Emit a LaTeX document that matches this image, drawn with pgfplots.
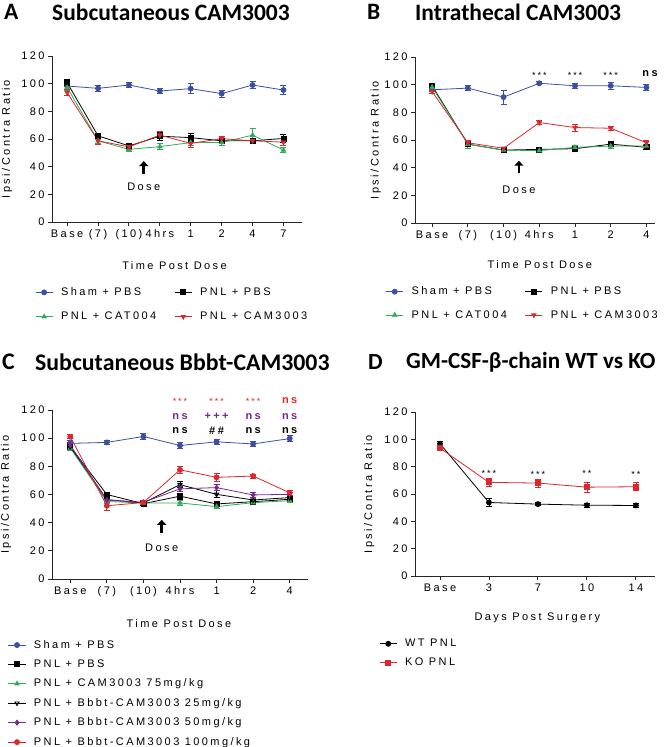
\documentclass[border=0pt]{standalone}
\usepackage{fontspec}
\setmainfont{Liberation Sans}[LetterSpace=22]
\newfontfamily\titlefont{Carlito}
\usepackage{pgfplots}
\pgfplotsset{compat=1.18}
\usepackage{pgfplotstable}
\usetikzlibrary{arrows.meta}
\definecolor{cblue}{RGB}{59,79,163}
\definecolor{cgreen}{RGB}{50,170,90}
\definecolor{cred}{RGB}{220,40,45}
\definecolor{cpurple}{RGB}{120,40,140}

\pgfplotstableread{
x sham se pbs pe cat ce cam me
0 98.3 2.5 100.7 2.5 97.3 2 93.5 2
1 96.6 2 62.3 2 58.7 2 58.7 2.5
2 99 2 55 2 52.5 1.5 54.3 2
3 94.7 2 62 3 54.5 2 62.8 2.5
4 96.4 3.5 61 3 57.4 2 56.8 3
5 92.8 2.5 58.7 2 57.4 2 60.2 2
6 99 2.5 58.7 2 62.8 5 58.7 2
7 95.4 3 60.4 3 52 2 57.7 2.5
}\dataA
\pgfplotstableread{
x sham se pbs pe cat ce cam me
0 96.3 1.5 99.2 2 98.2 2 95 1.5
1 97.5 2 57 3 57 3 58 2
2 91 5 52.7 1 52.7 1 54 1
3 101 1 53.2 1.5 52.3 1 72.6 1.5
4 99.2 2 53.7 1 54.7 1.5 69 2.5
5 99.2 2.5 57 1.5 55.6 1.5 68.5 1.5
6 98 2 54.7 1.5 55.6 1.5 58 1.5
}\dataB
\pgfplotstableread{
x sham se pbs pe cat ce l25 e25 l50 e50 l100 e100
0 96.3 2 94 2 93 2 94 2 95 2 101 1.5
1 97 1.5 60 1.5 55 1.5 56.4 1.5 56 1.5 52 3
2 101.2 2 53.5 1.5 54 1.5 54 1.5 54.5 1.5 54.3 1.5
3 94.8 2 58.8 2 54 1.5 67 2 64 2 77.5 2.5
4 97.4 1.5 53.3 1.5 51.4 1.5 60.1 2.5 64.9 2 72.2 3
5 95.9 1.5 54.9 1.5 54.2 1.5 56.1 1.5 59.7 1.5 73.1 1.5
6 99.7 2 56.6 1.5 55.6 1.5 57.8 1.5 60.1 1.5 61.2 2
}\dataC
\pgfplotstableread{
x wt we ko ke
0 96.8 1.5 93.6 2
1 53.8 3 68.5 3
2 52.6 1 68 3
3 51.8 1.5 65 3.5
4 51.6 1.5 65.3 3
}\dataD

\pgfplotsset{
  panel/.style={
    scale only axis, anchor=south west,
    axis x line*=bottom, axis y line*=left,
    ymin=0, ymax=120, ytick={0,20,...,120},
    tick align=outside, major tick length=4pt,
    axis line style={line width=0.9pt, black!85, -},
    every tick/.style={line width=0.9pt, black!85},
    tick label style={font=\fontsize{11}{13}\selectfont},
    /pgf/number format/assume math mode=true,
    label style={font=\fontsize{11}{13}\selectfont},
    ylabel={Ipsi/Contra Ratio},
    legend style={draw=none, fill=none, font=\fontsize{11}{13}\selectfont, anchor=north west, row sep=5pt,
      /tikz/every odd column/.append style={column sep=6pt}},
    legend cell align=left,
    every axis plot/.append style={line width=0.8pt, mark size=2.5pt},
    clip=false,
  },
  ebar/.style={error bars/.cd, y dir=both, y explicit,
    error mark options={rotate=90, mark size=3pt, line width=0.8pt},
    error bar style={line width=0.8pt}},
}
\newcommand{\ann}{\fontsize{9}{10}\selectfont}
\newcommand{\annb}{\fontsize{11}{12}\selectfont\bfseries}
\newcommand{\ttl}{\titlefont\bfseries\fontsize{23.5}{26}\selectfont}
\newcommand{\ttlc}{\titlefont\bfseries\fontsize{23.8}{26}\selectfont}
\newcommand{\ttld}{\titlefont\bfseries\fontsize{23.1}{26}\selectfont}

\begin{document}
\begin{tikzpicture}
\useasboundingbox (0,0) rectangle (666pt,747pt);
% titles
\node[anchor=west, inner sep=0] at (4pt,735pt) {\ttl A};
\node[anchor=west, inner sep=0] at (52pt,735pt) {\ttl Subcutaneous CAM3003};
\node[anchor=west, inner sep=0] at (367pt,735pt) {\ttl B};
\node[anchor=west, inner sep=0] at (415pt,735pt) {\ttl Intrathecal CAM3003};
\node[anchor=west, inner sep=0] at (2pt,385pt) {\ttlc C};
\node[anchor=west, inner sep=0] at (35pt,385pt) {\ttlc Subcutaneous Bbbt-CAM3003};
\node[anchor=west, inner sep=0] at (368pt,385pt) {\ttld D};
\node[anchor=west, inner sep=0] at (406pt,385pt) {\ttld GM-CSF-β-chain WT vs KO};

% Panel A
\begin{axis}[panel, at={(52pt,525pt)}, width=250pt, height=166pt,
  xmin=-0.49, xmax=7.6, xtick={0,...,7},
  xticklabels={Base,(7),(10),4hrs,1,2,4,7},
  xlabel={Time Post Dose},
  xlabel style={at={(axis description cs:0.49,-0.26)}, anchor=center},
  ylabel style={at={(axis description cs:-0.18,0.5)}, anchor=center},
  legend columns=2,
  legend style={at={(axis description cs:-0.08,-0.37)}, row sep=11pt, /tikz/every even column/.append style={column sep=16pt}},
]
\addplot[cblue, mark=*, ebar] table[x=x,y=sham,y error=se]{\dataA};
\addlegendentry{Sham + PBS}
\addplot[black, mark=square*, ebar] table[x=x,y=pbs,y error=pe]{\dataA};
\addlegendentry{PNL + PBS}
\addplot[cgreen, mark=triangle*, ebar] table[x=x,y=cat,y error=ce]{\dataA};
\addlegendentry{PNL + CAT004}
\addplot[cred, mark=triangle*, mark options={rotate=180}, ebar] table[x=x,y=cam,y error=me]{\dataA};
\addlegendentry{PNL + CAM3003}
\draw[-{Triangle[width=9pt,length=5pt]}, line width=2.8pt] (axis cs:2.48,35) -- (axis cs:2.48,44);
\node[font=\fontsize{11}{13}\selectfont] at (axis cs:2.48,25.5) {Dose};
\end{axis}

% Panel B
\begin{axis}[panel, at={(415pt,524pt)}, width=240pt, height=166pt,
  xmin=-0.48, xmax=6.24, xtick={0,...,6},
  xticklabels={Base,(7),(10),4hrs,1,2,4},
  xlabel={Time Post Dose},
  xlabel style={at={(axis description cs:0.52,-0.253)}, anchor=center},
  ylabel style={at={(axis description cs:-0.163,0.5)}, anchor=center},
  legend columns=2,
  legend style={at={(axis description cs:-0.135,-0.36)}, row sep=10pt, /tikz/every even column/.append style={column sep=16pt}},
]
\addplot[cblue, mark=*, ebar] table[x=x,y=sham,y error=se]{\dataB};
\addlegendentry{Sham + PBS}
\addplot[black, mark=square*, ebar] table[x=x,y=pbs,y error=pe]{\dataB};
\addlegendentry{PNL + PBS}
\addplot[cgreen, mark=triangle*, ebar] table[x=x,y=cat,y error=ce]{\dataB};
\addlegendentry{PNL + CAT004}
\addplot[cred, mark=triangle*, mark options={rotate=180}, ebar] table[x=x,y=cam,y error=me]{\dataB};
\addlegendentry{PNL + CAM3003}
\draw[-{Triangle[width=9pt,length=5pt]}, line width=2.8pt] (axis cs:2.43,36) -- (axis cs:2.43,45);
\node[font=\fontsize{11}{13}\selectfont] at (axis cs:2.43,24) {Dose};
\node[font=\ann] at (axis cs:3,106.5) {***};
\node[font=\ann] at (axis cs:4,106.5) {***};
\node[font=\ann] at (axis cs:5,106.5) {***};
\node[font=\annb] at (axis cs:6.1,108) {ns};
\end{axis}

% Panel C
\begin{axis}[panel, at={(52pt,168pt)}, width=256pt, height=169pt,
  xmin=-0.5, xmax=6.5, xtick={0,...,6},
  xticklabels={Base,(7),(10),4hrs,1,2,4},
  xlabel={Time Post Dose},
  xlabel style={at={(axis description cs:0.496,-0.266)}, anchor=center},
  ylabel style={at={(axis description cs:-0.18,0.5)}, anchor=center},
  legend style={at={(axis description cs:-0.184,-0.338)}, row sep=6pt},
]
\addplot[cblue, mark=*, ebar] table[x=x,y=sham,y error=se]{\dataC};
\addlegendentry{Sham + PBS}
\addplot[black, mark=square*, ebar] table[x=x,y=pbs,y error=pe]{\dataC};
\addlegendentry{PNL + PBS}
\addplot[cgreen, mark=triangle*, ebar] table[x=x,y=cat,y error=ce]{\dataC};
\addlegendentry{PNL + CAM3003 75mg/kg}
\addplot[black, mark=triangle, mark options={rotate=180, fill=white}, ebar] table[x=x,y=l25,y error=e25]{\dataC};
\addlegendentry{PNL + Bbbt-CAM3003 25mg/kg}
\addplot[cpurple, mark=diamond*, ebar] table[x=x,y=l50,y error=e50]{\dataC};
\addlegendentry{PNL + Bbbt-CAM3003 50mg/kg}
\addplot[cred, mark=*, ebar] table[x=x,y=l100,y error=e100]{\dataC};
\addlegendentry{PNL + Bbbt-CAM3003 100mg/kg}
\draw[-{Triangle[width=9pt,length=5pt]}, line width=2.8pt] (axis cs:2.5,33) -- (axis cs:2.5,42);
\node[font=\fontsize{11}{13}\selectfont] at (axis cs:2.5,22.5) {Dose};
\node[font=\ann, text=cred] at (axis cs:3,126) {***};
\node[font=\ann, text=cred] at (axis cs:4,126) {***};
\node[font=\ann, text=cred] at (axis cs:5,126) {***};
\node[font=\annb, text=cred] at (axis cs:6,126.5) {ns};
\node[font=\annb, text=cpurple] at (axis cs:3,115.5) {ns};
\node[font=\annb, text=cpurple] at (axis cs:4,115.5) {+++};
\node[font=\annb, text=cpurple] at (axis cs:5,115.5) {ns};
\node[font=\annb, text=cpurple] at (axis cs:6,115.5) {ns};
\node[font=\annb] at (axis cs:3,105.5) {ns};
\node[font=\annb] at (axis cs:4,105.5) {\#\#};
\node[font=\annb] at (axis cs:5,105.5) {ns};
\node[font=\annb] at (axis cs:6,105.5) {ns};
\end{axis}

% Panel D
\begin{axis}[panel, at={(415pt,171pt)}, width=240pt, height=164pt,
  xmin=-0.51, xmax=4.39, xtick={0,...,4},
  xticklabels={Base,3,7,10,14},
  xlabel={Days Post Surgery},
  xlabel style={at={(axis description cs:0.51,-0.256)}, anchor=center},
  ylabel style={at={(axis description cs:-0.19,0.5)}, anchor=center},
  legend style={at={(axis description cs:-0.162,-0.36)}, row sep=6pt},
]
\addplot[black, mark=*, ebar] table[x=x,y=wt,y error=we]{\dataD};
\addlegendentry{WT PNL}
\addplot[cred, mark=square*, ebar] table[x=x,y=ko,y error=ke]{\dataD};
\addlegendentry{KO PNL}
\node[font=\ann] at (axis cs:1,75) {***};
\node[font=\ann] at (axis cs:2,74) {***};
\node[font=\ann] at (axis cs:3,75) {**};
\node[font=\ann] at (axis cs:4,74) {**};
\end{axis}
\end{tikzpicture}
\end{document}
